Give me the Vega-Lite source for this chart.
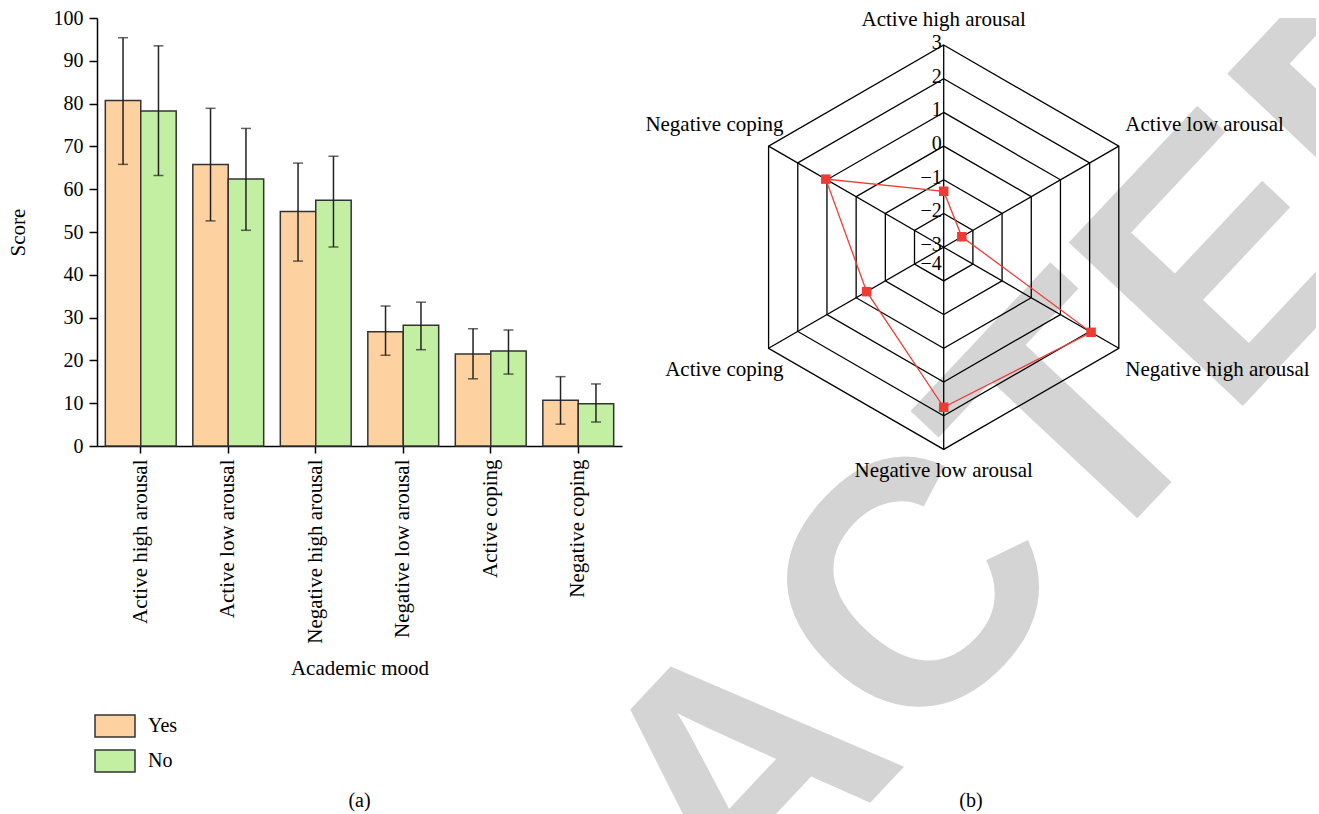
{
  "$schema": "https://vega.github.io/schema/vega-lite/v6.json",
  "padding": {"left": 7, "top": 8, "right": 5, "bottom": 5},
  "background": "white",
  "spacing": 4,
  "config": {
    "font": "Liberation Serif",
    "view": {"stroke": null},
    "axis": {"labelColor": "black", "titleColor": "black", "domainColor": "black", "tickColor": "black", "titleFontWeight": "normal", "grid": false, "labelFont": "Liberation Serif", "titleFont": "Liberation Serif", "labelFontSize": 20, "titleFontSize": 21, "domainWidth": 1.5, "tickWidth": 1.5},
    "title": {"fontWeight": "normal", "fontSize": 20, "color": "black", "font": "Liberation Serif"},
    "legend": {"labelFont": "Liberation Serif", "labelColor": "black"}
  },
  "datasets": {
    "bars": [
      {"mood": "Active high arousal", "group": "Yes", "mean": 80.7, "lo": 65.8, "hi": 95.4},
      {"mood": "Active high arousal", "group": "No", "mean": 78.3, "lo": 63.2, "hi": 93.5},
      {"mood": "Active low arousal", "group": "Yes", "mean": 65.8, "lo": 52.6, "hi": 78.9},
      {"mood": "Active low arousal", "group": "No", "mean": 62.4, "lo": 50.4, "hi": 74.2},
      {"mood": "Negative high arousal", "group": "Yes", "mean": 54.8, "lo": 43.2, "hi": 66.1},
      {"mood": "Negative high arousal", "group": "No", "mean": 57.4, "lo": 46.5, "hi": 67.7},
      {"mood": "Negative low arousal", "group": "Yes", "mean": 26.7, "lo": 21.2, "hi": 32.7},
      {"mood": "Negative low arousal", "group": "No", "mean": 28.2, "lo": 22.5, "hi": 33.6},
      {"mood": "Active coping", "group": "Yes", "mean": 21.5, "lo": 15.7, "hi": 27.4},
      {"mood": "Active coping", "group": "No", "mean": 22.2, "lo": 16.8, "hi": 27.1},
      {"mood": "Negative coping", "group": "Yes", "mean": 10.7, "lo": 5.1, "hi": 16.2},
      {"mood": "Negative coping", "group": "No", "mean": 9.9, "lo": 5.6, "hi": 14.5}
    ],
    "radar": [
      {"mood": "Active high arousal", "k": 0, "value": -1.34},
      {"mood": "Active low arousal", "k": 1, "value": -2.38},
      {"mood": "Negative high arousal", "k": 2, "value": 2.05},
      {"mood": "Negative low arousal", "k": 3, "value": 1.75},
      {"mood": "Active coping", "k": 4, "value": -0.36},
      {"mood": "Negative coping", "k": 5, "value": 1.04}
    ],
    "rings": [
      {"level": -2, "k": [0, 1, 2, 3, 4, 5]},
      {"level": -1, "k": [0, 1, 2, 3, 4, 5]},
      {"level": 0, "k": [0, 1, 2, 3, 4, 5]},
      {"level": 1, "k": [0, 1, 2, 3, 4, 5]},
      {"level": 2, "k": [0, 1, 2, 3, 4, 5]},
      {"level": 3, "k": [0, 1, 2, 3, 4, 5]}
    ],
    "ticks": [
      {"level": 3}, {"level": 2}, {"level": 1}, {"level": 0},
      {"level": -1}, {"level": -2}, {"level": -3}, {"level": -4}
    ],
    "stamp": [{"text": "RETRACTED"}]
  },
  "hconcat": [
    {
      "width": 525,
      "height": 428,
      "data": {"name": "bars"},
      "title": {"text": "(a)", "orient": "bottom", "offset": 113, "anchor": "middle"},
      "encoding": {
        "x": {
          "field": "mood", "type": "nominal",
          "sort": ["Active high arousal", "Active low arousal", "Negative high arousal", "Negative low arousal", "Active coping", "Negative coping"],
          "scale": {"paddingInner": 0.19, "paddingOuter": 0.095},
          "title": "Academic mood",
          "axis": {"labelAngle": -90, "labelFontSize": 21, "labelLimit": 0, "tickSize": 7, "labelPadding": 6, "titlePadding": 14}
        },
        "xOffset": {"field": "group", "type": "nominal", "sort": ["Yes", "No"], "scale": {"paddingInner": 0, "paddingOuter": 0}}
      },
      "layer": [
        {
          "mark": {"type": "bar", "stroke": "#333333", "strokeWidth": 1.5},
          "encoding": {
            "y": {
              "field": "mean", "type": "quantitative", "title": "Score",
              "scale": {"domain": [0, 100], "nice": false},
              "axis": {
                "values": [0, 5, 10, 15, 20, 25, 30, 35, 40, 45, 50, 55, 60, 65, 70, 75, 80, 85, 90, 95, 100],
                "labelExpr": "datum.value % 10 === 0 ? datum.label : ''",
                "labelOverlap": false,
                "tickSize": {"condition": {"test": "datum.value % 10 !== 0", "value": 4}, "value": 8},
                "labelPadding": 6,
                "titlePadding": 25
              }
            },
            "fill": {
              "field": "group", "type": "nominal",
              "scale": {"domain": ["Yes", "No"], "range": ["#FDD1A0", "#C2EFA2"]},
              "legend": {
                "orient": "none", "legendX": -3, "legendY": 687, "title": null, "padding": 0,
                "symbolType": "M-1,-0.55H1V0.55H-1Z", "symbolSize": 1600,
                "symbolStrokeColor": "#333333", "symbolStrokeWidth": 1.5, "symbolOpacity": 1,
                "labelFontSize": 20, "labelOffset": 12, "rowPadding": -1
              }
            }
          }
        },
        {
          "mark": {"type": "rule", "color": "#222222", "strokeWidth": 1.5},
          "encoding": {
            "y": {"field": "lo", "type": "quantitative", "title": "Score"},
            "y2": {"field": "hi"}
          }
        },
        {
          "mark": {"type": "tick", "color": "#222222", "thickness": 1.5, "size": 10},
          "encoding": {"y": {"field": "lo", "type": "quantitative", "title": "Score"}}
        },
        {
          "mark": {"type": "tick", "color": "#222222", "thickness": 1.5, "size": 10},
          "encoding": {"y": {"field": "hi", "type": "quantitative", "title": "Score"}}
        }
      ]
    },
    {
      "width": 690,
      "height": 799,
      "title": {"text": "(b)", "orient": "bottom", "offset": -26, "anchor": "middle"},
      "layer": [
        {
          "data": {"name": "stamp"},
          "mark": {"type": "text", "clip": true, "font": "Liberation Sans", "fontWeight": "bold", "fontSize": 347, "angle": -46.8, "align": "center", "baseline": "middle", "color": "#d4d4d4"},
          "encoding": {
            "text": {"field": "text", "type": "nominal"},
            "x": {"datum": -5.786, "type": "quantitative", "scale": {"domain": [-9.427, 11.047], "nice": false, "zero": false}, "axis": null},
            "y": {"datum": -15.816, "type": "quantitative", "scale": {"domain": [-16.908, 6.801], "nice": false, "zero": false}, "axis": null}
          }
        },
        {
          "data": {"name": "rings"},
          "transform": [
            {"flatten": ["k"]},
            {"calculate": "(datum.level + 3) * sin(datum.k * PI / 3)", "as": "gx"},
            {"calculate": "(datum.level + 3) * cos(datum.k * PI / 3)", "as": "gy"}
          ],
          "mark": {"type": "line", "interpolate": "linear-closed", "color": "black", "strokeWidth": 1.3},
          "encoding": {
            "x": {"field": "gx", "type": "quantitative", "scale": {"domain": [-9.427, 11.047], "nice": false, "zero": false}, "axis": null},
            "y": {"field": "gy", "type": "quantitative", "scale": {"domain": [-16.908, 6.801], "nice": false, "zero": false}, "axis": null},
            "detail": {"field": "level", "type": "nominal"},
            "order": {"field": "k", "type": "quantitative"}
          }
        },
        {
          "data": {"name": "radar"},
          "transform": [
            {"calculate": "0", "as": "cx"},
            {"calculate": "6 * sin(datum.k * PI / 3)", "as": "sx"},
            {"calculate": "6 * cos(datum.k * PI / 3)", "as": "sy"}
          ],
          "mark": {"type": "rule", "color": "black", "strokeWidth": 1.3},
          "encoding": {
            "x": {"field": "cx", "type": "quantitative", "scale": {"domain": [-9.427, 11.047], "nice": false, "zero": false}, "axis": null},
            "y": {"field": "cx", "type": "quantitative", "scale": {"domain": [-16.908, 6.801], "nice": false, "zero": false}, "axis": null},
            "x2": {"field": "sx"},
            "y2": {"field": "sy"}
          }
        },
        {
          "data": {"name": "radar"},
          "transform": [
            {"calculate": "(datum.value + 3) * sin(datum.k * PI / 3)", "as": "px"},
            {"calculate": "(datum.value + 3) * cos(datum.k * PI / 3)", "as": "py"}
          ],
          "mark": {"type": "line", "interpolate": "linear-closed", "color": "#EE3B34", "strokeWidth": 1.3},
          "encoding": {
            "x": {"field": "px", "type": "quantitative", "scale": {"domain": [-9.427, 11.047], "nice": false, "zero": false}, "axis": null},
            "y": {"field": "py", "type": "quantitative", "scale": {"domain": [-16.908, 6.801], "nice": false, "zero": false}, "axis": null},
            "order": {"field": "k", "type": "quantitative"}
          }
        },
        {
          "data": {"name": "radar"},
          "transform": [
            {"calculate": "(datum.value + 3) * sin(datum.k * PI / 3)", "as": "px"},
            {"calculate": "(datum.value + 3) * cos(datum.k * PI / 3)", "as": "py"}
          ],
          "mark": {"type": "point", "shape": "square", "filled": true, "size": 90, "color": "#EE3B34", "opacity": 1},
          "encoding": {
            "x": {"field": "px", "type": "quantitative", "scale": {"domain": [-9.427, 11.047], "nice": false, "zero": false}, "axis": null},
            "y": {"field": "py", "type": "quantitative", "scale": {"domain": [-16.908, 6.801], "nice": false, "zero": false}, "axis": null}
          }
        },
        {
          "data": {"name": "radar"},
          "transform": [
            {"filter": "datum.k == 0"},
            {"calculate": "6 * sin(datum.k * PI / 3)", "as": "lx"},
            {"calculate": "6 * cos(datum.k * PI / 3) + 0.63", "as": "ly"}
          ],
          "mark": {"type": "text", "fontSize": 21, "align": "center", "baseline": "middle", "dy": -4, "color": "black"},
          "encoding": {
            "text": {"field": "mood", "type": "nominal"},
            "x": {"field": "lx", "type": "quantitative", "scale": {"domain": [-9.427, 11.047], "nice": false, "zero": false}, "axis": null},
            "y": {"field": "ly", "type": "quantitative", "scale": {"domain": [-16.908, 6.801], "nice": false, "zero": false}, "axis": null}
          }
        },
        {
          "data": {"name": "radar"},
          "transform": [
            {"filter": "datum.k == 3"},
            {"calculate": "6 * sin(datum.k * PI / 3)", "as": "lx"},
            {"calculate": "6 * cos(datum.k * PI / 3) - 0.63", "as": "ly"}
          ],
          "mark": {"type": "text", "fontSize": 21, "align": "center", "baseline": "middle", "color": "black"},
          "encoding": {
            "text": {"field": "mood", "type": "nominal"},
            "x": {"field": "lx", "type": "quantitative", "scale": {"domain": [-9.427, 11.047], "nice": false, "zero": false}, "axis": null},
            "y": {"field": "ly", "type": "quantitative", "scale": {"domain": [-16.908, 6.801], "nice": false, "zero": false}, "axis": null}
          }
        },
        {
          "data": {"name": "radar"},
          "transform": [
            {"filter": "datum.k == 1 || datum.k == 2"},
            {"calculate": "6 * sin(datum.k * PI / 3)", "as": "lx"},
            {"calculate": "6 * cos(datum.k * PI / 3) + (cos(datum.k * PI / 3) > 0 ? 0.63 : -0.63)", "as": "ly"}
          ],
          "mark": {"type": "text", "fontSize": 21, "align": "left", "baseline": "middle", "dx": 6.5, "color": "black"},
          "encoding": {
            "text": {"field": "mood", "type": "nominal"},
            "x": {"field": "lx", "type": "quantitative", "scale": {"domain": [-9.427, 11.047], "nice": false, "zero": false}, "axis": null},
            "y": {"field": "ly", "type": "quantitative", "scale": {"domain": [-16.908, 6.801], "nice": false, "zero": false}, "axis": null}
          }
        },
        {
          "data": {"name": "radar"},
          "transform": [
            {"filter": "datum.k == 4 || datum.k == 5"},
            {"calculate": "6 * sin(datum.k * PI / 3)", "as": "lx"},
            {"calculate": "6 * cos(datum.k * PI / 3) + (cos(datum.k * PI / 3) > 0 ? 0.63 : -0.63)", "as": "ly"}
          ],
          "mark": {"type": "text", "fontSize": 21, "align": "right", "baseline": "middle", "dx": 15, "color": "black"},
          "encoding": {
            "text": {"field": "mood", "type": "nominal"},
            "x": {"field": "lx", "type": "quantitative", "scale": {"domain": [-9.427, 11.047], "nice": false, "zero": false}, "axis": null},
            "y": {"field": "ly", "type": "quantitative", "scale": {"domain": [-16.908, 6.801], "nice": false, "zero": false}, "axis": null}
          }
        },
        {
          "data": {"name": "ticks"},
          "transform": [
            {"filter": "datum.level > -4"},
            {"calculate": "0", "as": "cx"},
            {"calculate": "datum.level + 3", "as": "ty"}
          ],
          "mark": {"type": "text", "fontSize": 20, "align": "right", "baseline": "middle", "dx": -2, "dy": -2, "color": "black"},
          "encoding": {
            "text": {"field": "level", "type": "quantitative", "format": "d"},
            "x": {"field": "cx", "type": "quantitative", "scale": {"domain": [-9.427, 11.047], "nice": false, "zero": false}, "axis": null},
            "y": {"field": "ty", "type": "quantitative", "scale": {"domain": [-16.908, 6.801], "nice": false, "zero": false}, "axis": null}
          }
        },
        {
          "data": {"name": "ticks"},
          "transform": [
            {"filter": "datum.level == -4"},
            {"calculate": "0", "as": "cx"}
          ],
          "mark": {"type": "text", "fontSize": 20, "align": "right", "baseline": "middle", "dx": -2, "dy": 17, "color": "black"},
          "encoding": {
            "text": {"field": "level", "type": "quantitative", "format": "d"},
            "x": {"field": "cx", "type": "quantitative", "scale": {"domain": [-9.427, 11.047], "nice": false, "zero": false}, "axis": null},
            "y": {"field": "cx", "type": "quantitative", "scale": {"domain": [-16.908, 6.801], "nice": false, "zero": false}, "axis": null}
          }
        }
      ]
    }
  ]
}
